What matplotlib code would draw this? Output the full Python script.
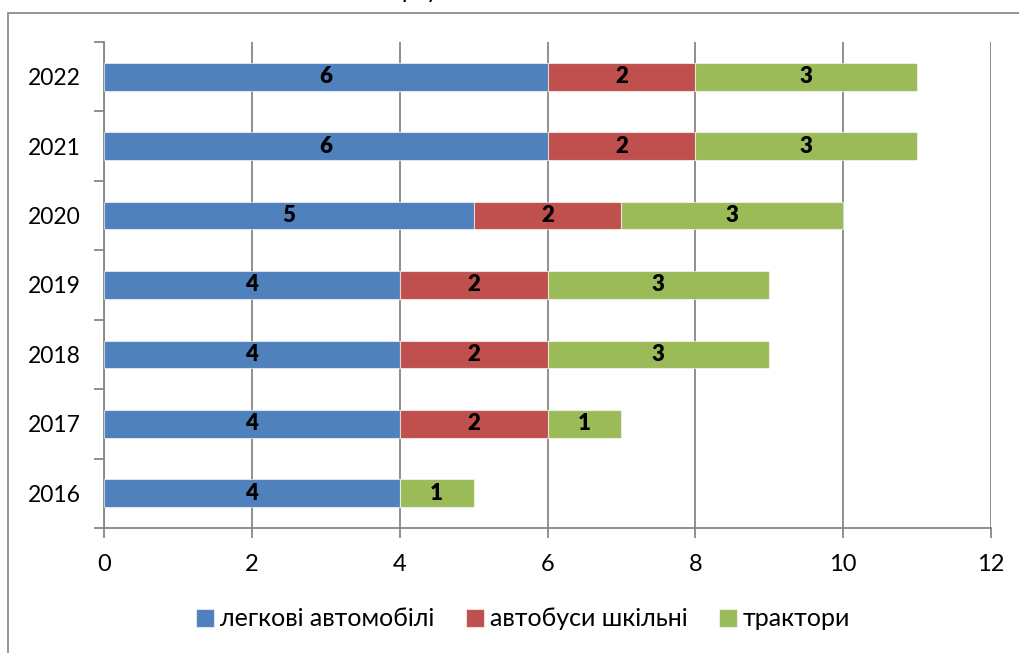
import matplotlib
matplotlib.use("Agg")
import matplotlib.pyplot as plt
from matplotlib.patches import Rectangle
import numpy as np

plt.rcParams['font.family'] = ['Lato', 'DejaVu Sans']

years = ["2016", "2017", "2018", "2019", "2020", "2021", "2022"]
cars = [4, 4, 4, 4, 5, 6, 6]
buses = [0, 2, 2, 2, 2, 2, 2]
tractors = [1, 1, 3, 3, 3, 3, 3]
series_names = ["легкові автомобілі", "автобуси шкільні", "трактори"]
colors = ["#4F81BD", "#C0504D", "#9BBB59"]
x_ticks = [0, 2, 4, 6, 8, 10, 12]

W, H = 1019, 653
fig = plt.figure(figsize=(W / 100, H / 100), dpi=100)

# chart frame (extends past the right and bottom edges)
fig.patches.append(Rectangle((8 / W, -0.1), 1.2, 1 - 13 / H + 0.1,
                             transform=fig.transFigure, fill=False,
                             edgecolor="#8C8C8C", linewidth=1.3, zorder=0))
# title sits above the visible area; only its descenders reach into view
fig.text(401 / W, 1 + 1.5 / H, "рту", fontsize=17, va="baseline", ha="left",
         color="black")

ax = fig.add_axes([104 / W, 125 / H, 887 / W, 486 / H])
grid_grey = "#878787"

y = np.arange(len(years))
left = np.zeros(len(years))
for vals, name, col in zip([cars, buses, tractors], series_names, colors):
    vals = np.array(vals, dtype=float)
    bars = ax.barh(y, vals, left=left, height=0.4, color=col, label=name,
                   edgecolor=(1, 1, 1, 0.6), linewidth=0.8, zorder=3)
    labels = [f"{int(v)}" if v > 0 else "" for v in vals]
    ax.bar_label(bars, labels=labels, label_type="center", fontsize=16,
                 fontweight="heavy", color="black")
    left += vals

ax.set_xlim(0, 12)
ax.set_ylim(-0.5, len(years) - 0.5)
ax.set_xticks(x_ticks)
ax.set_xticklabels([str(t) for t in x_ticks], fontsize=17)
ax.set_yticks(y)
ax.set_yticklabels(years, fontsize=16.5)
ax.set_yticks(np.arange(len(years) + 1) - 0.5, minor=True)

ax.tick_params(axis="y", which="major", length=0, pad=17)
ax.tick_params(axis="y", which="minor", length=7, width=1.3, color=grid_grey,
               direction="out")
ax.tick_params(axis="x", which="major", length=7, width=1.3, color=grid_grey,
               direction="out", pad=12)

ax.xaxis.grid(True, color=grid_grey, linewidth=1.3, zorder=0)
ax.set_axisbelow(True)
for s in ["top", "right"]:
    ax.spines[s].set_visible(False)
for s in ["left", "bottom"]:
    ax.spines[s].set_color(grid_grey)
    ax.spines[s].set_linewidth(1.3)

leg = fig.legend(loc="center", bbox_to_anchor=(523 / W, 1 - 619 / H), ncol=3,
                 frameon=False, fontsize=18, handlelength=0.72, handleheight=0.72,
                 handletextpad=0.25, columnspacing=1.25)

fig.savefig("out.png", dpi=100)
